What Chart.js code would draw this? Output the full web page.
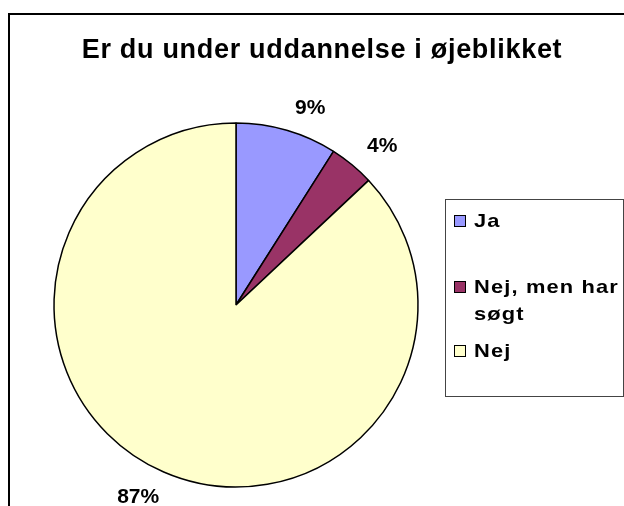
<!DOCTYPE html>
<html>
<head>
<meta charset="utf-8">
<script src="https://cdn.jsdelivr.net/npm/chart.js@4/dist/chart.umd.min.js"></script>
<style>
html,body{margin:0;padding:0;background:#fff;}
#wrap{width:624px;height:506px;position:relative;}
</style>
</head>
<body>
<div id="wrap"><canvas id="c" width="624" height="506"></canvas></div>
<script>
const titleText = "Er du under uddannelse i øjeblikket";
const categories = ["Ja", "Nej, men har søgt", "Nej"];
const legendLines = [["Ja"], ["Nej, men har", "søgt"], ["Nej"]];
const values = [9, 4, 87];
const colors = ["#9999FF", "#993366", "#FFFFCC"];

const FONT = "'Liberation Sans', Arial, sans-serif";

const decor = {
  id: 'decor',
  beforeDraw(chart) {
    const ctx = chart.ctx;
    ctx.save();
    ctx.fillStyle = '#fff';
    ctx.fillRect(0, 0, chart.width, chart.height);
    ctx.restore();
  },
  afterDraw(chart) {
    const ctx = chart.ctx;
    ctx.save();
    // outer frame
    ctx.strokeStyle = '#000';
    ctx.lineWidth = 2;
    ctx.strokeRect(9, 14, 700, 600);
    // title
    ctx.fillStyle = '#000';
    ctx.font = "bold 27px " + FONT;
    ctx.letterSpacing = '0.7px';
    ctx.textAlign = 'center';
    ctx.textBaseline = 'alphabetic';
    ctx.fillText(titleText, 322, 58);
    // labels
    ctx.letterSpacing = '0px';
    const meta = chart.getDatasetMeta(0);
    const total = values.reduce((a, b) => a + b, 0);
    ctx.font = "bold 21px " + FONT;
    meta.data.forEach((arc, i) => {
      const p = arc.getProps(['x', 'y', 'startAngle', 'endAngle', 'outerRadius'], true);
      const mid = (p.startAngle + p.endAngle) / 2;
      const R = p.outerRadius + 19;
      const c = Math.cos(mid), s = Math.sin(mid);
      const x = p.x + c * R + 3;
      const y = p.y + s * R;
      ctx.textAlign = c >= 0 ? 'left' : 'right';
      ctx.textBaseline = s < 0 ? 'alphabetic' : 'top';
      ctx.fillText(Math.round(values[i] / total * 100) + '%', x, y + (s < 0 ? 2 : -3));
    });
    // legend box
    ctx.strokeStyle = '#444';
    ctx.lineWidth = 1;
    ctx.strokeRect(445.5, 199.5, 178, 197);
    const rows = [227, 293, 357];
    legendLines.forEach((lines, i) => {
      const y = rows[i];
      ctx.fillStyle = colors[i];
      ctx.fillRect(454, y - 12, 12, 12);
      ctx.strokeStyle = '#000';
      ctx.strokeRect(454.5, y - 11.5, 11, 11);
      ctx.fillStyle = '#000';
      lines.forEach((t, k) => {
        ctx.save();
        ctx.translate(474, y + k * 27);
        ctx.scale(1.15, 1);
        ctx.textAlign = 'left';
        ctx.textBaseline = 'alphabetic';
        ctx.font = "bold 19px " + FONT;
        ctx.letterSpacing = '1px';
        ctx.fillText(t, 0, 0);
        ctx.restore();
      });
    });
    ctx.restore();
  }
};

new Chart(document.getElementById('c'), {
  type: 'pie',
  data: {
    labels: categories,
    datasets: [{
      data: values,
      backgroundColor: colors,
      borderColor: '#000',
      borderWidth: 1.5
    }]
  },
  options: {
    responsive: false,
    animation: false,
    radius: 182,
    layout: { padding: { left: 54, right: 206, top: 123, bottom: 19 } },
    plugins: {
      legend: { display: false },
      title: { display: false },
      tooltip: { enabled: false }
    }
  },
  plugins: [decor]
});
</script>
</body>
</html>
